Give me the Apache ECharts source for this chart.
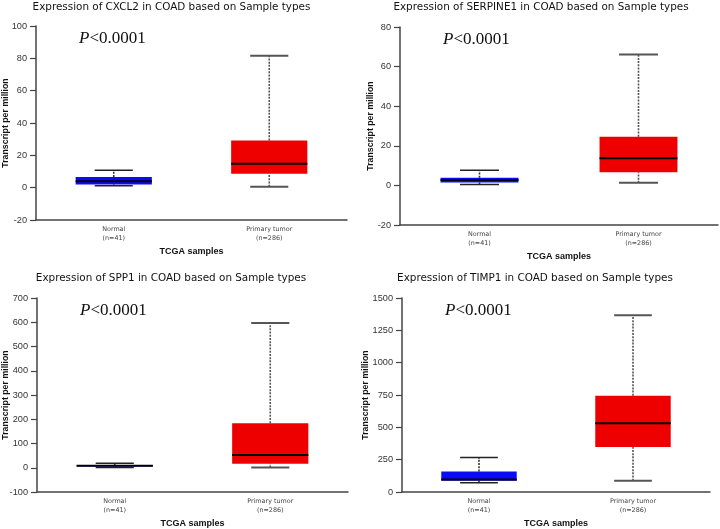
<!DOCTYPE html>
<html><head><meta charset="utf-8">
<script src="https://cdn.jsdelivr.net/npm/echarts@6/dist/echarts.min.js"></script>
<style>html,body{margin:0;padding:0;background:#fff}#c{width:720px;height:529px}</style>
</head><body><div id="c"></div>
<script>
// ---- data ----
const categories = ['Normal\n(n=41)', 'Primary tumor\n(n=286)'];
const genes = ['CXCL2', 'SERPINE1', 'SPP1', 'TIMP1'];
// [min, Q1, median, Q3, max]
const cxcl2Normal = [1.2, 2.0, 3.9, 6.6, 10.7];
const cxcl2Tumor = [0.6, 8.6, 14.8, 29.2, 81.6];
const serpine1Normal = [0.5, 1.5, 2.7, 3.9, 7.6];
const serpine1Tumor = [1.3, 6.7, 13.7, 24.6, 66.1];
const spp1Normal = [1, 5, 8, 11, 19];
const spp1Tumor = [1, 16, 53, 184, 597];
const timp1Normal = [72, 87, 97, 159, 267];
const timp1Tumor = [87, 347, 531, 744, 1366];
const yMin = [-20, -20, -100, 0];
const yMax = [100, 80, 700, 1500];
const yStep = [20, 20, 100, 250];

const normals = [cxcl2Normal, serpine1Normal, spp1Normal, timp1Normal];
const tumors = [cxcl2Tumor, serpine1Tumor, spp1Tumor, timp1Tumor];

// ---- layout ----
const grids = [
  {left: 36, top: 26, width: 311, height: 194, outerBoundsMode: 'none', containLabel: false},
  {left: 400, top: 27, width: 318, height: 198, outerBoundsMode: 'none', containLabel: false},
  {left: 37, top: 298, width: 311, height: 194, outerBoundsMode: 'none', containLabel: false},
  {left: 402, top: 298, width: 308, height: 194, outerBoundsMode: 'none', containLabel: false}
];
const titleCenters = [166.5, 536, 166, 530];
const titleTops = [-3, -3, 268, 268];
const yNameGaps = [26, 25, 27, 32];

function renderBox(fill, whisker, capColor, capW) {
  return function (params, api) {
    const xi = api.value(0);
    const c = k => api.coord([xi, api.value(k)]);
    const pMin = c(1), pQ1 = c(2), pMed = c(3), pQ3 = c(4), pMax = c(5);
    const band = api.size([1, 0])[0];
    const bw = band * 0.49, cw = bw * 0.5;
    const cx = pMin[0];
    const ws = {stroke: whisker, lineWidth: 1.6, lineDash: [2, 1.2]};
    return {type: 'group', children: [
      {type: 'line', shape: {x1: cx, y1: pQ3[1], x2: cx, y2: pMax[1]}, style: ws},
      {type: 'line', shape: {x1: cx, y1: pMin[1], x2: cx, y2: pQ1[1]}, style: ws},
      {type: 'line', shape: {x1: cx - cw / 2, y1: pMax[1], x2: cx + cw / 2, y2: pMax[1]}, style: {stroke: capColor, lineWidth: capW}},
      {type: 'line', shape: {x1: cx - cw / 2, y1: pMin[1], x2: cx + cw / 2, y2: pMin[1]}, style: {stroke: capColor, lineWidth: capW}},
      {type: 'rect', shape: {x: cx - bw / 2, y: pQ3[1], width: bw, height: Math.max(pQ1[1] - pQ3[1], 1.5)}, style: {fill: fill}},
      {type: 'line', shape: {x1: cx - bw / 2, y1: pMed[1], x2: cx + bw / 2, y2: pMed[1]}, style: {stroke: '#000', lineWidth: 2}}
    ]};
  };
}

const titles = [], xAxes = [], yAxes = [], series = [];
genes.forEach((g, i) => {
  const gr = grids[i];
  titles.push({
    text: 'Expression of ' + g + ' in COAD based on Sample types',
    left: titleCenters[i], top: titleTops[i], textAlign: 'center',
    textStyle: {fontFamily: 'DejaVu Sans', fontSize: 10.4, fontWeight: 'normal', color: '#111'}
  });
  titles.push({
    text: '{p|P}{r|<0.0001}',
    left: gr.left + 38, top: gr.top - 1,
    textStyle: {fontWeight: 'normal', rich: {
      p: {fontFamily: 'Liberation Serif', fontStyle: 'italic', fontWeight: 'normal', fontSize: 17, color: '#111'},
      r: {fontFamily: 'Liberation Serif', fontWeight: 'normal', fontSize: 17, color: '#111'}
    }}
  });
  xAxes.push({
    gridIndex: i, type: 'category', data: categories, boundaryGap: true,
    axisLine: {onZero: false, lineStyle: {color: '#444', width: 1.5}}, axisTick: {show: false},
    axisLabel: {fontFamily: 'DejaVu Sans', fontSize: 6.4, lineHeight: 9, color: '#444', margin: 5},
    name: 'TCGA samples', nameLocation: 'middle', nameGap: 27, nameMoveOverlap: false,
    nameTextStyle: {fontFamily: 'Liberation Sans', fontWeight: 'bold', fontSize: 9, color: '#111'}
  });
  yAxes.push({
    gridIndex: i, type: 'value', min: yMin[i], max: yMax[i], interval: yStep[i],
    splitLine: {show: false},
    axisLine: {show: true, onZero: false, lineStyle: {color: '#444', width: 1.5}},
    axisTick: {show: true, length: 6, lineStyle: {color: '#444', width: 1.2}},
    axisLabel: {fontFamily: 'Liberation Sans', fontSize: 9.2, color: '#333', margin: 9,
      formatter: v => String(v)},
    name: 'Transcript per million', nameLocation: 'middle', nameGap: yNameGaps[i], nameRotate: 90,
    nameMoveOverlap: false,
    nameTextStyle: {fontFamily: 'Liberation Sans', fontWeight: 'bold', fontSize: 8.8, color: '#111'}
  });
  series.push({
    type: 'custom', xAxisIndex: i, yAxisIndex: i,
    renderItem: renderBox('#0b0bf8', '#333', '#222', 1.5),
    data: [[0].concat(normals[i])], clip: false
  });
  series.push({
    type: 'custom', xAxisIndex: i, yAxisIndex: i,
    renderItem: renderBox('#ee0000', '#555', '#555', 2),
    data: [[1].concat(tumors[i])], clip: false
  });
});

const chart = echarts.init(document.getElementById('c'), null, {renderer: 'canvas'});
chart.setOption({
  backgroundColor: '#fff', animation: false,
  title: titles, grid: grids, xAxis: xAxes, yAxis: yAxes, series: series
});
</script></body></html>
